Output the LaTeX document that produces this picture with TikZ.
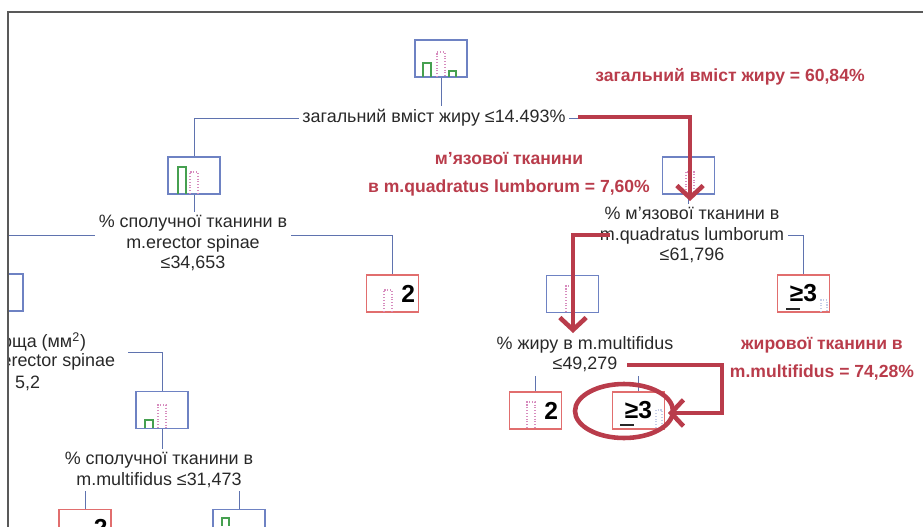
\documentclass[tikz,border=0pt]{standalone}
\usepackage{fontspec}
\setmainfont{Liberation Sans}
\usetikzlibrary{arrows.meta,positioning}

\definecolor{edgeblue}{RGB}{95,115,175}
\definecolor{boxblue}{RGB}{110,130,195}
\definecolor{boxred}{RGB}{225,110,110}
\definecolor{barpink}{RGB}{215,140,190}
\definecolor{bargreen}{RGB}{70,160,80}
\definecolor{markred}{RGB}{185,60,75}
\definecolor{textgray}{RGB}{40,40,40}

\begin{document}
\begin{tikzpicture}[x=0.02cm,y=-0.02cm,>={Straight Barb[length=7pt,width=15pt]},
  font=\fontsize{10.2}{11.5}\selectfont]

  \tikzstyle{hist}=[rectangle,draw=boxblue,line width=0.6pt,minimum width=1.04cm,minimum height=0.74cm,inner sep=0pt]
  \tikzstyle{leaf}=[hist,draw=boxred,text width=0.9cm,align=right,font=\fontsize{14}{14}\bfseries\selectfont]
  \tikzstyle{split}=[align=center,inner sep=2pt,text=textgray]
  \tikzstyle{edge}=[draw=edgeblue,line width=0.5pt]
  \tikzstyle{hilite}=[draw=markred,line width=2.6pt,->]
  \tikzstyle{note}=[text=markred,align=center,font=\fontsize{10}{16}\bfseries\selectfont]
  \tikzstyle{gbar}=[draw=bargreen,line width=0.6pt]
  \tikzstyle{pbar}=[draw=barpink,densely dotted,line width=0.6pt]

  \useasboundingbox (0,0) rectangle (923,527);

\begin{scope}
  \clip (8,12) rectangle (923,527);

  % root
  \node[hist]  (h0) at (441,58.5) {};
  \node[split] (s0) at (434,118) {загальний вміст жиру ≤14.493\%};

  % level 1
  \node[hist]  (h1) at (194,175.5) {};
  \node[split] (s1) at (193,243) {\% сполучної тканини в\\m.erector spinae\\≤34,653};
  \node[hist]  (h2) at (688.5,175.5) {};
  \node[split] (s2) at (692,235) {\% м'язової тканини в\\m.quadratus lumborum\\≤61,796};

  % level 2
  \node[hist]  (h1a) at (-3,292.5) {};
  \node[leaf]  (l1) at (392.5,293.5) {2};
  \node[hist]  (h3) at (572.5,294) {};
  \node[leaf,align=center] (l2) at (803.5,293.5) {≥3};

  % level 3
  \node[split,anchor=east] (s3)  at (90,342) {площа (мм\textsuperscript{2})};
  \node[split,anchor=east] (s3b) at (119,362) {m.erector spinae};
  \node[split,anchor=east] (s3c) at (44,383) {5,2};
  \coordinate (c3) at (128,352);
  \node[split] (s4) at (585,354) {\% жиру в m.multifidus\\≤49,279};
  \node[hist]  (h4) at (162,410) {};
  \node[leaf]  (l4) at (535.5,410.5) {2};
  \node[leaf,align=center] (l5) at (638.5,410.5) {≥3};

  % level 4
  \node[split] (s5) at (159,470) {\% сполучної тканини в\\m.multifidus ≤31,473};
  \node[leaf]  (l3) at (85,528) {2};
  \node[hist]  (h5) at (239,528) {};

  % tree edges
  \draw[edge] (h0.south) -- (h0.south |- s0.north);
  \draw[edge] (s0.west) -| (h1.north);
  \draw[edge] (s0.east) -| (h2.north);
  \draw[edge] (h1.south) -- (h1.south |- s1.north);
  \draw[edge] ([yshift=0.16cm]s1.west) -| (h1a.north);
  \draw[edge] ([yshift=0.16cm]s1.east) -| (l1.north);
  \draw[edge] (h2.south) -- (h2.south |- s2.north);
  \draw[edge] (s2.west) -| (h3.north);
  \draw[edge] (s2.east) -| (l2.north);
  \draw[edge] (c3) -| (h4.north);
  \draw[edge] (h4.south) -- (h4.south |- s5.north);
  \draw[edge] (l3.north) -- (l3.north |- s5.south);
  \draw[edge] (h5.north) -- (h5.north |- s5.south);
  \draw[edge] (h3.south) -- (h3.south |- s4.north);
  \draw[edge] (l4.north) -- (l4.north |- s4.south);
  \draw[edge] (l5.north) -- (l5.north |- s4.south);

  % histogram bars
  \draw[gbar] (423,77) |- (431,63) -- (431,77);
  \draw[pbar] (437,77) |- (445,52) -- (445,77);
  \draw[gbar] (449,77) |- (456,71) -- (456,77);
  \draw[gbar] (178,194) |- (186,167) -- (186,194);
  \draw[pbar] (190,194) |- (198,172) -- (198,194);
  \draw[pbar] (686,193) |- (694,172) -- (694,193);
  \draw[pbar] (566,312) |- (574,286) -- (574,312);
  \draw[gbar] (145,428) |- (153,420) -- (153,428);
  \draw[pbar] (158,428) |- (166,405) -- (166,428);
  \draw[gbar] (222,526) |- (229,518) -- (229,526);
  \draw[pbar] (384,312) |- (392,290) -- (392,312);
  \draw[pbar,draw=boxblue!40] (821,312) |- (827,300) -- (827,312);
  \draw[pbar] (527,428) |- (535,402) -- (535,428);
  \draw[pbar,draw=boxblue!40] (656,428) |- (662,410) -- (662,428);
  \draw[textgray,line width=0.6pt] (786,309) -- (800,309);
  \draw[textgray,line width=0.6pt] (620,425) -- (634,425);
\end{scope}

  % frame
  \draw[black!65,line width=0.8pt] (923,12) -- (8,12) -- (8,527);

  % highlighted path
  \coordinate (a1) at (578,117);
  \coordinate (a1e) at (690,201);
  \coordinate (a2) at (610,235);
  \coordinate (a2e) at (573,333);
  \coordinate (a3) at (627,365);
  \coordinate (a3e) at (668,413);
  \draw[hilite] (a1) -| (a1e);
  \draw[hilite] (a2) -| (a2e);
  \draw[hilite] (a3) -- ++(95,0) |- (a3e);
  \draw[markred,line width=2.6pt] (624,411) ellipse [x radius=0.98cm, y radius=0.54cm];

  % notes
  \node[note] (n1) at (730,77) {загальний вміст жиру = 60,84\%};
  \node[note] (n2) at (509,174) {м’язової тканини\\в m.quadratus lumborum = 7,60\%};
  \node[note] (n3) at (822,359) {жирової тканини в\\m.multifidus = 74,28\%};
\end{tikzpicture}
\end{document}
